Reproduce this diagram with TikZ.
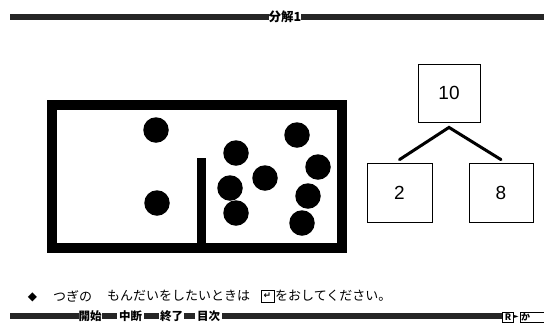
\documentclass[tikz,border=0pt]{standalone}
\usepackage{fontspec}
\setmainfont{Liberation Sans}
\newfontfamily\jpfont{Noto Sans CJK JP}
\newfontfamily\symfont{DejaVu Sans}
\usetikzlibrary{calc}
\begin{document}
\begin{tikzpicture}[x=1pt,y=-1pt,
  barfill/.style={fill=black!85, draw=none},
  gaplabel/.style={fill=white, inner sep=0pt, font=\jpfont\bfseries\fontsize{11.5}{11.5}\selectfont, text height=9pt, text depth=1.5pt},
  numbox/.style={draw=black, line width=0.8pt, fill=white, inner sep=0pt, font=\fontsize{19}{19}\selectfont},
  dot/.style={circle, fill=black, draw=none, minimum size=25.5pt, inner sep=0pt},
  treeline/.style={line width=3pt, line cap=round},
  jptext/.style={inner sep=0pt, anchor=west, font=\jpfont\fontsize{13}{13}\selectfont},
  smallbox/.style={draw=black, line width=1pt, fill=white, inner sep=0pt, font=\jpfont\bfseries\fontsize{9}{9}\selectfont}
]
\useasboundingbox[fill=white] (0,0) rectangle (544,325);

% top bar with title
\fill[barfill] (10,14) rectangle (544,20);
\node[fill=white, inner sep=0pt, minimum width=30pt, minimum height=14pt, font=\jpfont\bfseries\fontsize{12.5}{12.5}\selectfont] (title) at (285,17) {分解1};

% big frame
\draw[line width=10pt] (52,105) rectangle (342,248);
\fill (197,158) rectangle (206,244);

% dots
\node[dot] (d1) at (156,130) {};
\node[dot] (d2) at (157,203) {};
\node[dot] (d3) at (236,153) {};
\node[dot] (d4) at (297,135) {};
\node[dot] (d5) at (318,167) {};
\node[dot] (d6) at (265,178) {};
\node[dot] (d7) at (230,188) {};
\node[dot] (d8) at (236,213) {};
\node[dot] (d9) at (308,196) {};
\node[dot] (d10) at (302,223) {};

% tree
\node[numbox, minimum width=62pt, minimum height=58pt] (n10) at (449,93) {10};
\node[numbox, minimum width=65pt, minimum height=59pt] (n2) at (399.5,192.5) {2};
\node[numbox, minimum width=64pt, minimum height=59pt] (n8) at (501,192.5) {8};
\coordinate (apex) at ([yshift=-5pt]n10.south);
\coordinate (lend) at ([yshift=3pt]n2.north);
\coordinate (rend) at ([yshift=3pt]n8.north);
\draw[treeline] (lend) -- (apex) -- (rend);

% instruction line
\node[inner sep=0pt, font=\symfont\fontsize{12}{12}\selectfont] (diam) at (32.5,297) {◆};
\node[jptext] (t1) at (53,296) {つぎの};
\node[jptext] (t2) at (107,296) {もんだいをしたいときは};
\node[draw=black, line width=1pt, minimum width=13pt, minimum height=12pt, inner sep=0pt, font=\symfont\bfseries\fontsize{9}{9}\selectfont] (icon) at (267.5,296) {↵};
\node[jptext] (t3) at (275,296) {をおしてください。};

% bottom bar
\fill[barfill] (10,313) rectangle (502,319);
\node[gaplabel, minimum width=23pt, minimum height=12pt] (b1) at (90,317) {開始};
\node[gaplabel, minimum width=27pt, minimum height=12pt] (b2) at (130.5,317) {中断};
\node[gaplabel, minimum width=25pt, minimum height=12pt] (b3) at (171.5,317) {終了};
\node[gaplabel, minimum width=27pt, minimum height=12pt] (b4) at (208.5,317) {目次};
\node[smallbox, minimum width=11pt, minimum height=10pt] (rbox) at (508,317) {R};
\node[inner sep=0pt, font=\symfont\fontsize{6}{6}\selectfont] (tri) at (516.5,317) {►};
\node[smallbox, minimum width=26pt, minimum height=10pt, anchor=west, text width=24pt, align=left] (kbox) at (519.5,317) {か};
\end{tikzpicture}
\end{document}
